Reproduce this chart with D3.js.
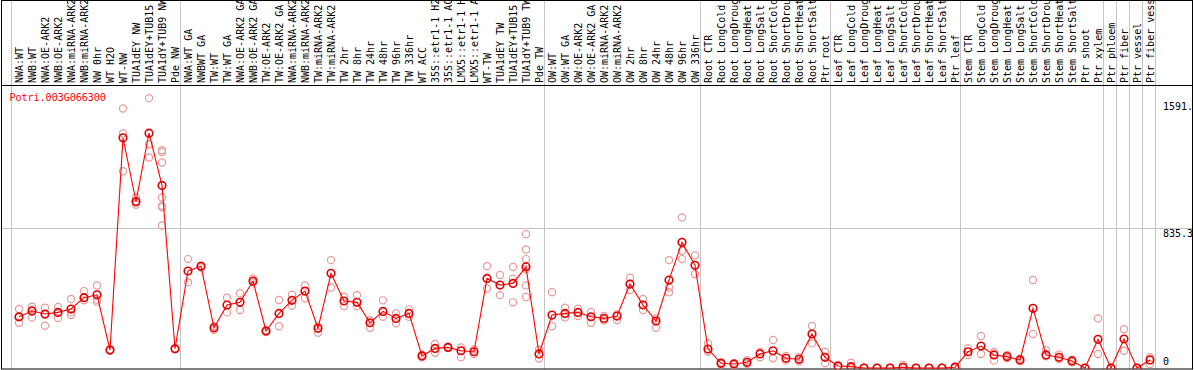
<!DOCTYPE html>
<html>
<head>
<meta charset="utf-8">
<script src="https://cdn.jsdelivr.net/npm/d3@7"></script>
<style>
  html, body { margin: 0; padding: 0; background: #fff; }
  svg { display: block; }
  text { font-family: "DejaVu Sans Mono", monospace; font-size: 10px; }
</style>
</head>
<body>
<script>
const geneName = "Potri.003G066300";

const columns = [
  "NWA:WT","NWB:WT","NWA:OE-ARK2","NWB:OE-ARK2","NWA:miRNA-ARK2","NWB:miRNA-ARK2","NW 0hr","WT H2O","WT-NW",
  "TUA1dEY NW","TUA1dEY+TUB15","TUA1dY+TUB9 NW","Pde NW",
  "NWA:WT GA","NWBWT GA","TW:WT","TW:WT GA","NWA:OE-ARK2 GA","NWB:OE-ARK2 GA","TW:OE-ARK2","TW:OE-ARK2 GA",
  "NWA:miRNA-ARK2","NWB:miRNA-ARK2","TW:miRNA-ARK2","TW:miRNA-ARK2","TW 2hr","TW 8hr","TW 24hr","TW 48hr","TW 96hr","TW 336hr",
  "WT ACC","35S::etr1-1 H2","35S::etr1-1 AC","LMX5::etr1-1 H","LMX5::etr1-1 A","WT-TW","TUA1dEY TW","TUA1dEY+TUB15","TUA1dY+TUB9 TW","Pde TW",
  "OW:WT","OW:WT GA","OW:OE-ARK2","OW:OE-ARK2 GA","OW:miRNA-ARK2","OW:miRNA-ARK2","OW 2hr","OW 8hr","OW 24hr","OW 48hr","OW 96hr","OW 336hr",
  "Root CTR","Root LongCold","Root LongDroug","Root LongHeat","Root LongSalt","Root ShortCold","Root ShortDrou","Root ShortHeat","Root ShortSalt","Ptr root",
  "Leaf CTR","Leaf LongCold","Leaf LongDroug","Leaf LongHeat","Leaf LongSalt","Leaf ShortCold","Leaf ShortDrou","Leaf ShortHeat","Leaf ShortSalt","Ptr leaf",
  "Stem CTR","Stem LongCold","Stem LongDroug","Stem LongHeat","Stem LongSalt","Stem ShortCold","Stem ShortDrou","Stem ShortHeat","Stem ShortSalt","Ptr shoot",
  "Ptr xylem","Ptr phloem","Ptr fiber","Ptr vessel","Ptr fiber vess"
];

// group separators: number of columns before each separator line
const separatorsAfter = [0, 13, 41, 53, 63, 73, 84, 85, 86, 87, 88];

const meanValues = [
  306, 340, 322, 332, 352, 420, 437, 107, 1374, 994, 1402, 1090, 115,
  579, 607, 240, 376, 392, 519, 221, 326,
  404, 459, 237, 565, 400, 392, 270, 338, 296, 326,
  72, 117, 123, 103, 97, 535, 495, 505, 604, 84,
  316, 326, 332, 306, 296, 310, 501, 376, 280, 525, 750, 613,
  113, 28, 24, 34, 84, 103, 58, 52, 203, 64,
  12, 8, 0, 0, 0, 4, 0, 0, 0, 4,
  97, 131, 78, 68, 48, 356, 78, 64, 42, 0,
  171, 0, 173, 0, 48
];

const replicateValues = [
  [352, 302, 270], [366, 350, 302], [360, 320, 252], [364, 332, 298], [412, 332, 316], [459, 404, 420], [493, 408, 396],
  [108, 104, 110], [1549, 1400, 1175], [1018, 986, 975], [1611, 1336, 1257], [1300, 1290, 1227, 1018, 968, 960, 851], [118, 112],
  [650, 511], [612, 600], [250, 228], [419, 332], [446, 346], [533, 511], [226, 215], [406, 249],
  [437, 372], [493, 416], [250, 211], [644, 481], [425, 370], [435, 370], [285, 240], [404, 306], [326, 267], [350, 306],
  [80, 64], [143, 91], [127, 119], [123, 64], [110, 84], [607, 475], [555, 435], [603, 533, 392], [799, 708, 650, 589, 493, 424], [111, 56],
  [452, 249], [360, 302], [354, 310], [334, 270], [310, 284], [320, 286], [539, 465], [412, 346], [296, 240], [644, 481, 452], [899, 700, 650], [672, 561],
  [147, 97], [34, 22], [30, 18], [46, 24], [96, 64], [167, 58], [72, 44], [64, 40], [251, 147], [97, 28],
  [16, 8], [32, 2], [4, 0], [0, 0], [2, 0], [18, 0], [0, 0], [0, 0], [2, 0], [10, 0],
  [117, 78], [191, 84], [96, 44], [78, 58], [56, 40], [525, 203], [107, 70], [80, 52], [50, 34], [2, 0],
  [296, 84], [2, 0], [231, 103], [0, 0], [64, 24]
];

const yTickValues = [1591, 835.3, 0];
const yTickLabels = ["1591.", "835.3", "0"];
const yGridValues = [835.3];

const W = 1194, H = 370;
const svg = d3.select("body").append("svg").attr("width", W).attr("height", H);

const x = d3.scaleBand().domain(d3.range(columns.length)).range([11, 1155]).paddingInner(0).paddingOuter(0);
const cx = i => x(i) + x.bandwidth() / 2 + 1.5;
const y = d3.scaleLinear().domain([0, 1591]).range([368, 101.5]);

const plotTop = 85, plotBottom = 369;

svg.append("defs").append("clipPath").attr("id", "plotclip")
  .append("rect").attr("x", 2).attr("y", plotTop + 0.5).attr("width", W - 4).attr("height", plotBottom - plotTop - 0.5);

// horizontal grid
svg.append("g").selectAll("line").data(yGridValues).join("line")
  .attr("x1", 1).attr("x2", W - 1)
  .attr("y1", d => Math.round(y(d)) + 0.5).attr("y2", d => Math.round(y(d)) + 0.5)
  .attr("stroke", "#c4c4c4").attr("stroke-width", 1);

// vertical separators
svg.append("g").selectAll("line").data(separatorsAfter).join("line")
  .attr("x1", d => (d < columns.length ? x(d) : x(columns.length - 1) + x.bandwidth()) + 0.5)
  .attr("x2", d => (d < columns.length ? x(d) : x(columns.length - 1) + x.bandwidth()) + 0.5)
  .attr("y1", 0).attr("y2", plotBottom)
  .attr("stroke", "#c4c4c4").attr("stroke-width", 1);

// column labels (rotated)
svg.append("g").selectAll("text").data(columns).join("text")
  .attr("transform", (d, i) => `translate(${cx(i) + 3.5},83) rotate(-90)`)
  .attr("fill", "#000")
  .text(d => d);

// header line and border
svg.append("line").attr("x1", 1).attr("x2", W - 1).attr("y1", plotTop + 0.5).attr("y2", plotTop + 0.5)
  .attr("stroke", "#000").attr("stroke-width", 1);
svg.append("rect").attr("x", 1.5).attr("y", 0.5).attr("width", W - 3).attr("height", plotBottom - 0.5)
  .attr("fill", "none").attr("stroke", "#000").attr("stroke-width", 1);

// right axis labels
svg.append("g").selectAll("text").data(yTickValues).join("text")
  .attr("x", 1163)
  .attr("y", (d, i) => d === 0 ? y(d) - 3 : y(d) + 8.5)
  .attr("fill", "#000")
  .text((d, i) => yTickLabels[i]);

// gene name
svg.append("text").attr("x", 9.5).attr("y", 101).attr("fill", "#ff0000").text(geneName);

const plot = svg.append("g").attr("clip-path", "url(#plotclip)");

// replicate points
const repPts = [];
replicateValues.forEach((arr, i) => arr.forEach(v => repPts.push({ i, v })));
plot.append("g").selectAll("circle").data(repPts).join("circle")
  .attr("cx", d => cx(d.i)).attr("cy", d => y(d.v)).attr("r", 3.6)
  .attr("fill", "none").attr("stroke", "#ea9a9a").attr("stroke-width", 1.2);

// mean line
plot.append("path")
  .datum(meanValues)
  .attr("d", d3.line().x((d, i) => cx(i)).y(d => y(d)))
  .attr("fill", "none").attr("stroke", "#ff0000").attr("stroke-width", 1.1);

// mean points
plot.append("g").selectAll("circle").data(meanValues).join("circle")
  .attr("cx", (d, i) => cx(i)).attr("cy", d => y(d)).attr("r", 3.8)
  .attr("fill", "none").attr("stroke", "#e00000").attr("stroke-width", 1.6);
</script>
</body>
</html>
